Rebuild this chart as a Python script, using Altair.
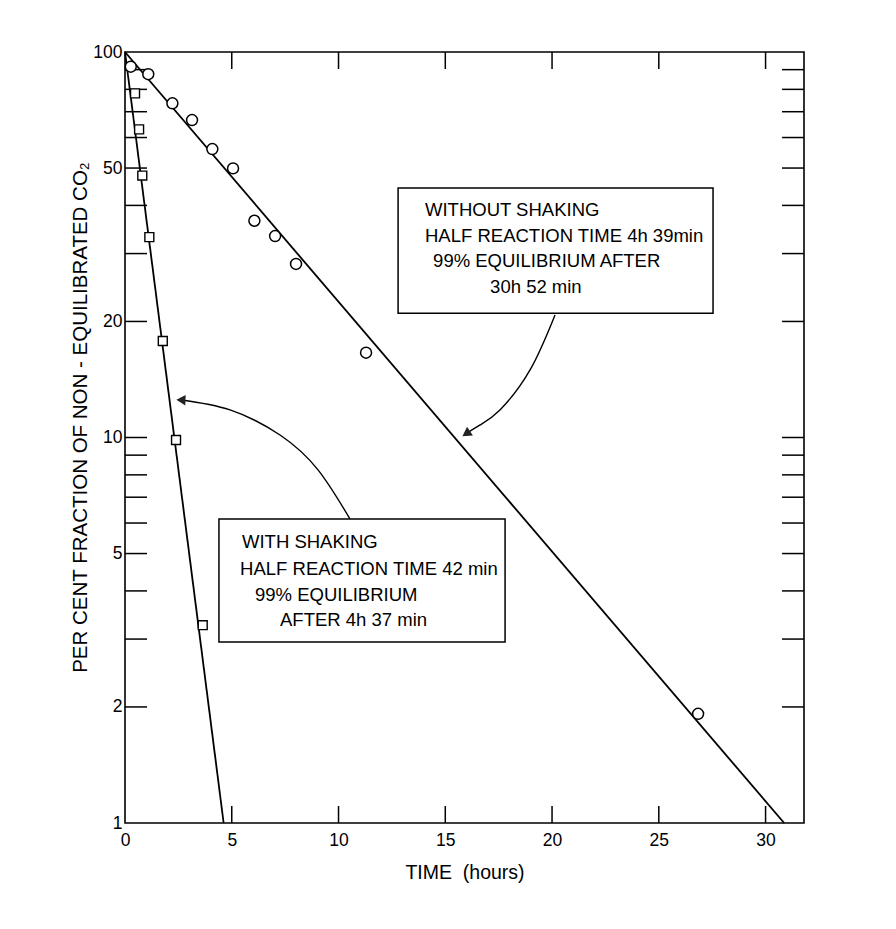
import altair as alt
import pandas as pd

# ---------------- data ----------------
# open circles: without shaking
t_without = [0.27, 1.09, 2.22, 3.14, 4.09, 5.06, 6.06, 7.03, 8.01, 11.29, 26.84]
v_without = [91.6, 87.6, 73.6, 66.6, 56.0, 49.9, 36.5, 33.3, 28.2, 16.6, 1.92]
# open squares: with shaking
t_with = [0.47, 0.66, 0.81, 1.14, 1.77, 2.39, 3.64]
v_with = [78.1, 63.0, 47.8, 33.1, 17.8, 9.85, 3.26]

# fitted lines (100 % at t=0 down to 1 % = 99 % equilibrium)
fit_without_t = [0.0, 30.87]
fit_without_v = [100.0, 1.0]
fit_with_t = [0.0, 4.62]
fit_with_v = [100.0, 1.0]

# axis ticks
x_tick_labels = [0, 5, 10, 15, 20, 25, 30]
x_inner_ticks = [5, 10, 15, 20, 25, 30]
y_tick_labels = [1, 2, 5, 10, 20, 50, 100]
y_inner_ticks = [2, 3, 4, 5, 6, 7, 8, 9, 10, 20, 30, 40, 50, 60, 70, 80, 90]

# annotation boxes (data coordinates)
box_t1 = [12.79, 4.40]
box_t2 = [27.54, 17.80]
box_v1 = [44.4, 6.15]
box_v2 = [21.0, 2.95]

note_text = [
    "WITHOUT SHAKING",
    "HALF REACTION TIME 4h 39min",
    "99% EQUILIBRIUM AFTER",
    "30h 52 min",
    "WITH SHAKING",
    "HALF REACTION TIME 42 min",
    "99% EQUILIBRIUM",
    "AFTER 4h 37 min",
]
note_t = [14.05, 14.05, 14.43, 17.10, 5.48, 5.39, 6.09, 7.26]
note_v = [37.56, 32.15, 27.69, 23.70, 5.17, 4.40, 3.77, 3.24]

# curved arrows
arrow1_t = [20.14, 18.97, 17.56, 16.63, 15.98]
arrow1_v = [20.79, 14.97, 11.79, 10.78, 10.23]
arrow2_t = [10.54, 9.04, 7.26, 4.92, 2.62]
arrow2_v = [6.145, 8.24, 10.15, 11.79, 12.51]
head_t = [15.98, 2.62]
head_v = [10.23, 12.51]
head_angle = [236, 272]

# ---------------- chart ----------------
W, H = 679, 771
FONT = "Liberation Sans"
xs = alt.Scale(domain=[0, 31.8], nice=False, zero=False)
ys = alt.Scale(type="log", domain=[1, 100], nice=False)

df_circ = pd.DataFrame({"t": t_without, "v": v_without})
df_sq = pd.DataFrame({"t": t_with, "v": v_with})
df_fit = pd.DataFrame({
    "t": fit_without_t + fit_with_t,
    "v": fit_without_v + fit_with_v,
    "s": ["without"] * 2 + ["with"] * 2,
})
df_arrow = pd.DataFrame({
    "t": arrow1_t + arrow2_t,
    "v": arrow1_v + arrow2_v,
    "s": ["a1"] * len(arrow1_t) + ["a2"] * len(arrow2_t),
    "i": list(range(len(arrow1_t))) + list(range(len(arrow2_t))),
})
df_head = pd.DataFrame({"t": head_t, "v": head_v, "a": head_angle})
df_xt = pd.DataFrame({"t": x_inner_ticks})
df_yt = pd.DataFrame({"v": y_inner_ticks})
df_box = pd.DataFrame({"t1": box_t1, "t2": box_t2, "v1": box_v1, "v2": box_v2})
df_note = pd.DataFrame({"t": note_t, "v": note_v, "label": note_text})

x_axis = alt.Axis(values=x_tick_labels, ticks=False, domain=False, grid=False,
                  labelFontSize=17.5, labelPadding=8, labelColor="black", labelFont=FONT,
                  title="TIME\u00a0\u00a0(hours)", titleFontSize=19.5, titleFontWeight="normal",
                  titleColor="black", titleFont=FONT, titlePadding=15, labelFlush=False)
y_axis = alt.Axis(values=y_tick_labels, format="d", ticks=False, domain=False, grid=False,
                  labelFontSize=17.5, labelPadding=3, labelColor="black", labelFont=FONT,
                  title="PER CENT FRACTION OF NON - EQUILIBRATED CO\u2082", titleFontSize=20.5,
                  titleFontWeight="normal", titleColor="black", titleFont=FONT,
                  titleBaseline="alphabetic", titleX=-39, titleY=365, labelFlush=False)

fit = alt.Chart(df_fit).mark_line(color="black", strokeWidth=1.8).encode(
    x=alt.X("t:Q", scale=xs, axis=x_axis),
    y=alt.Y("v:Q", scale=ys, axis=y_axis),
    detail="s:N",
)

arrows = alt.Chart(df_arrow).mark_line(color="black", strokeWidth=1.4, interpolate="natural").encode(
    x=alt.X("t:Q", scale=xs), y=alt.Y("v:Q", scale=ys), detail="s:N", order="i:Q"
)
heads = alt.Chart(df_head).mark_point(shape="triangle-up", filled=True, color="#222222",
                                      size=110, opacity=1).encode(
    x=alt.X("t:Q", scale=xs), y=alt.Y("v:Q", scale=ys), angle=alt.Angle("a:Q", scale=None)
)

tick_style = dict(color="black", strokeWidth=1.5)
top_ticks = alt.Chart(df_xt).mark_rule(**tick_style).encode(
    x=alt.X("t:Q", scale=xs), y=alt.value(0), y2=alt.value(17))
bot_ticks = alt.Chart(df_xt).mark_rule(**tick_style).encode(
    x=alt.X("t:Q", scale=xs), y=alt.value(H - 17), y2=alt.value(H))
left_ticks = alt.Chart(df_yt).mark_rule(**tick_style).encode(
    y=alt.Y("v:Q", scale=ys), x=alt.value(0), x2=alt.value(22))
right_ticks = alt.Chart(df_yt).mark_rule(**tick_style).encode(
    y=alt.Y("v:Q", scale=ys), x=alt.value(W - 22), x2=alt.value(W))

boxes = alt.Chart(df_box).mark_rect(fill="white", stroke="black", strokeWidth=1.5).encode(
    x=alt.X("t1:Q", scale=xs), x2="t2:Q", y=alt.Y("v1:Q", scale=ys), y2="v2:Q")
notes = alt.Chart(df_note).mark_text(align="left", baseline="alphabetic", fontSize=18.5,
                                     font=FONT, color="black").encode(
    x=alt.X("t:Q", scale=xs), y=alt.Y("v:Q", scale=ys), text="label:N")

circles = alt.Chart(df_circ).mark_point(shape="circle", size=120, filled=True, fill="white",
                                        stroke="black", strokeWidth=1.5, opacity=1).encode(
    x=alt.X("t:Q", scale=xs), y=alt.Y("v:Q", scale=ys))
squares = alt.Chart(df_sq).mark_point(shape="square", size=80, filled=True, fill="white",
                                      stroke="black", strokeWidth=1.4, opacity=1).encode(
    x=alt.X("t:Q", scale=xs), y=alt.Y("v:Q", scale=ys))

chart = alt.layer(
    fit, arrows, heads, top_ticks, bot_ticks, left_ticks, right_ticks,
    boxes, notes, circles, squares
).properties(
    width=W, height=H,
    autosize=alt.AutoSizeParams(type="none"),
    padding={"left": 117, "top": 44, "right": 80, "bottom": 98},
    background="white",
).configure_view(stroke="black", strokeWidth=1.6)

chart.save("out.html", embed_options={"renderer": "svg", "actions": False})
